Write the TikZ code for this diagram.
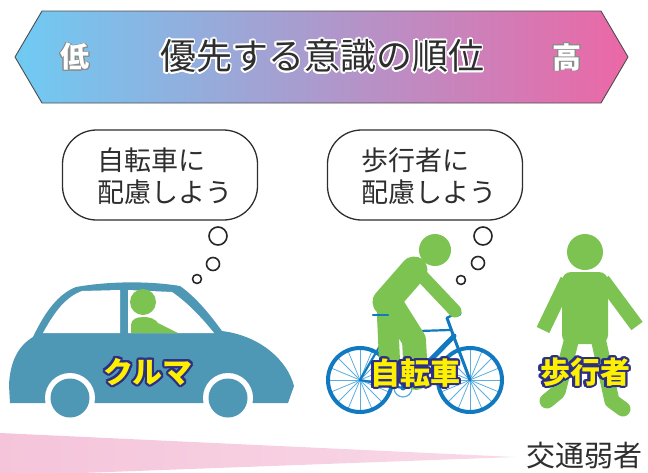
\documentclass[tikz,border=0pt]{standalone}
\usepackage{fontspec}
\setmainfont{Noto Sans CJK JP}

\definecolor{carblue}{HTML}{4F98B5}
\definecolor{figgreen}{HTML}{7DC352}
\definecolor{bikeblue}{HTML}{1079C0}
\definecolor{spokeblue}{HTML}{5BAEDD}
\definecolor{wedgepink}{HTML}{F5C4DA}
\definecolor{labelnavy}{HTML}{2B2F85}
\definecolor{labelyellow}{HTML}{FFF000}
\definecolor{inkgray}{HTML}{2E2E2E}
\definecolor{lowblue}{HTML}{6ECBF3}
\definecolor{midlilac}{HTML}{B0A9D3}
\definecolor{highpink}{HTML}{EC67A6}

% text with a coloured halo: name, position, halo colour, halo width, style, text
\newcommand\haloed[6]{%
  \foreach \hang in {0,22.5,...,337.5}
    \node[#5,text=#3,shift={(\hang:#4)}] at #2 {#6};
  \node[#5] (#1) at #2 {#6};}

\begin{document}
\begin{tikzpicture}[
  x=1pt,y=-1pt,
  bubble/.style={draw=inkgray,line width=1.3pt,rounded corners=34pt,fill=white,
                 minimum width=195pt,minimum height=90pt,inner sep=0pt},
  bubbletext/.style={text=inkgray,align=left,font=\fontsize{27}{32}\selectfont,
                     inner sep=0pt,anchor=west},
  puff/.style={draw=black!85,line width=1.6pt,fill=white},
  figlabel/.style={font=\bfseries\fontsize{30}{30}\selectfont,text=labelyellow,inner sep=0pt},
  titletext/.style={font=\fontsize{36}{36}\selectfont,text=inkgray,inner sep=0pt},
  endtext/.style={font=\bfseries\fontsize{29}{29}\selectfont,text=white,inner sep=0pt},
  limb/.style={figgreen,line cap=round,line join=round},
  every path/.style={line join=round}
]
\useasboundingbox (0,0) rectangle (648,472);

% priority banner
\shade[left color=lowblue,middle color=midlilac,right color=highpink]
  (15,57) -- (42,11) -- (601,11) -- (628,57) -- (601,103) -- (42,103) -- cycle;
\draw[black!70,line width=.9pt]
  (15,57) -- (42,11) -- (601,11) -- (628,57) -- (601,103) -- (42,103) -- cycle;
\haloed{low}{(75,57)}{black!45}{.8}{endtext}{低}
\haloed{high}{(567,57)}{black!45}{.8}{endtext}{高}
\haloed{title}{(322,56)}{white}{1.6}{titletext}{優先する意識の順位}

% thought bubbles
\node[bubble] (carthink) at (160,175) {};
\node[bubbletext] (carwords) at (97,176) {自転車に\\配慮しよう};
\node[bubble] (bikethink) at (425,175) {};
\node[bubbletext] (bikewords) at (361,176) {歩行者に\\配慮しよう};
\draw[puff] (218,236) circle (9);
\draw[puff] (213,264) circle (6.5);
\draw[puff] (197,279) circle (4.5);
\draw[puff] (483,236) circle (9);
\draw[puff] (478,263) circle (6.5);
\draw[puff] (461,280) circle (4.5);

% car
\fill[carblue] (10,403) -- (9,385) .. controls (10,362) and (18,346) .. (33,337)
  .. controls (45,312) and (58,294) .. (76,287)
  .. controls (110,281) and (150,281) .. (180,286)
  .. controls (197,298) and (211,316) .. (222,331)
  .. controls (262,336) and (288,362) .. (294,386)
  -- (288,403) -- cycle;
\fill[white] (43,333) .. controls (55,311) and (66,297) .. (82,291)
  -- (120,290) -- (120,333) -- cycle;
\fill[white] (128,290) -- (172,292) .. controls (188,303) and (202,318) .. (214,333)
  -- (128,333) -- cycle;
\fill[figgreen] (143,302) circle (13);
\fill[figgreen] (131,333) -- (131,325) .. controls (131,319) and (137,317) .. (144,317)
  .. controls (150,317) and (155,319) .. (158,323) -- (178,333) -- cycle;
\foreach \wx in {70,228} {
  \fill[white] (\wx,398) circle (25);
  \fill[carblue] (\wx,398) circle (19.5);
}
\haloed{carname}{(148,372)}{labelnavy}{2.2}{figlabel}{クルマ}

% bicycle
\foreach \hx in {360,470}
  \foreach \a in {0,22.5,...,337.5}
    \draw[spokeblue,line width=.8pt] (\hx,380) -- ++(\a:31);
\foreach \hx in {360,470}
  \draw[bikeblue,line width=4pt] (\hx,380) circle (32);
\draw[spokeblue,line width=1.2pt] (403,388) circle (9);
\begin{scope}[bikeblue,line cap=round]
  \draw[line width=2.2pt] (360,380) -- (403,388) -- (382,318);
  \draw[line width=2.2pt] (360,380) -- (388,332) -- (450,330);
  \draw[line width=5pt] (403,388) -- (454,336);
  \draw[line width=3pt] (447,318) -- (455,340) -- (470,380);
  \draw[line width=2.4pt] (447,318) -- (456,313);
  \fill (458,313) circle (3.5);
\end{scope}

% cyclist
\fill[figgreen] (435,250) circle (16);
\draw[limb,line width=27pt] (386,302) -- (414,270);
\draw[limb,line width=13pt] (420,274) -- (455,311);
\draw[limb,line width=21pt] (387,305) -- (390,372);
\draw[limb,line width=24pt] (392,305) -- (414,340) -- (416,378);
\draw[bikeblue,line width=2.4pt,line cap=round] (373,315) -- (388,315);
\haloed{bikename}{(415,373)}{labelnavy}{2.2}{figlabel}{自転車}

% pedestrian
\fill[figgreen] (585,252) circle (18);
\fill[figgreen,rounded corners=9pt] (562,272) rectangle (608,344);
\draw[figgreen,line width=14pt] (567,280) -- (543,330);
\draw[figgreen,line width=14pt] (603,280) -- (637,326);
\draw[limb,line width=15pt] (572,338) -- (558,392) -- (547,401);
\draw[limb,line width=15pt] (598,338) -- (612,401) -- (623,409);
\haloed{walkname}{(585,372)}{labelnavy}{2.2}{figlabel}{歩行者}

% vulnerability wedge
\shade[left color=wedgepink,right color=wedgepink!65]
  (0,433) -- (515,457) -- (0,476) -- cycle;
\node[font=\fontsize{29}{29}\selectfont,text=inkgray,inner sep=0pt] (weak) at (584,456) {交通弱者};
\end{tikzpicture}
\end{document}
